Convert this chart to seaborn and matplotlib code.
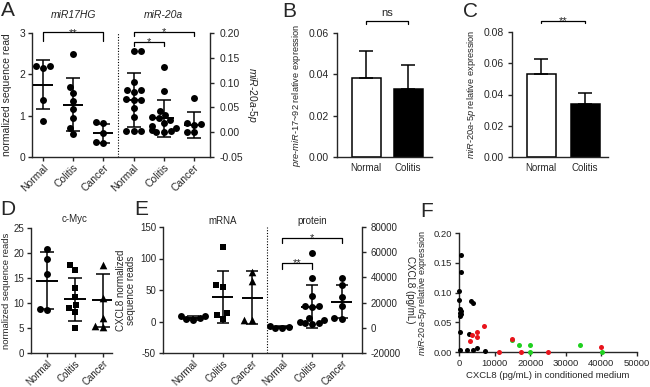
import numpy as np
import pandas as pd
import seaborn as sns
import matplotlib.pyplot as plt
import matplotlib.transforms as mtrans
from matplotlib.ticker import FormatStrFormatter

W, H = 650, 387
groups = ["Normal", "Colitis", "Cancer"]

## A: miR17HG reads (left axis) and miR-20a-5p (right axis)
a_hg_normal = [2.20, 2.15, 2.19, 1.39, 0.88]
a_hg_colitis = [2.50, 1.70, 1.55, 1.35, 1.15, 0.95, 0.70, 0.55]
a_hg_cancer = [0.85, 0.82, 0.58, 0.37, 0.35]
a_hg_mean = [1.75, 1.27, 0.57]
a_hg_sd = [0.60, 0.63, 0.23]

a_mir_normal = [0.163, 0.163, 0.102, 0.086, 0.086, 0.082, 0.067, 0.065,
                0.064, 0.048, 0.031, 0.003, 0.003, 0.003]
a_mir_colitis = [0.132, 0.084, 0.043, 0.034, 0.030, 0.028, 0.024, 0.018,
                 0.012, 0.008, 0.004, 0.002, 0.001, 0.000]
a_mir_cancer = [0.068, 0.018, 0.016, 0.014, 0.001, 0.000]
a_mir_mean = [0.065, 0.028, 0.015]
a_mir_sd = [0.054, 0.037, 0.026]

## B / C: bar charts (mean + upper error)
bc_groups = ["Normal", "Colitis"]
b_vals = [0.038, 0.033]
b_err = [0.0135, 0.0115]
c_vals = [0.053, 0.034]
c_err = [0.010, 0.007]

## D: c-Myc reads
d_normal = [20.9, 18.8, 15.9, 8.6, 8.8]
d_colitis = [17.6, 16.6, 13.1, 11.3, 9.6, 9.0, 8.2, 5.0]
d_cancer = [17.6, 11.0, 7.0, 5.5, 5.2]
d_mean = [14.5, 10.8, 10.6]
d_sd = [5.7, 4.3, 5.3]

## E: CXCL8 mRNA (left axis) and protein (right axis)
e_mrna_normal = [9, 8, 6, 4, 2]
e_mrna_colitis = [118, 58, 54, 13, 10, 4]
e_mrna_cancer = [79, 64, 2, 2]
e_mrna_mean = [5, 38.5, 37.5]
e_mrna_sd = [3, 41, 42]

e_prot_normal = [1300, 700, 100, -500]
e_prot_colitis = [59400, 39800, 25000, 17500, 17000, 16500, 8000, 6000,
                  5000, 4000, 3500, 3000]
e_prot_cancer = [39800, 33700, 24400, 17300, 8000, 7000]
e_prot_mean = [600, 16800, 20800]
e_prot_sd = [500, 16900, 12900]

## F: scatter, CXCL8 vs miR-20a-5p
f_black_x = [470, 660, 0, 0, 400, 500, 200, 560, 300, 300, 3380, 4030, 2810,
             200, 2160, 4020, 4970, 7300]
f_black_y = [0.163, 0.135, 0.103, 0.087, 0.072, 0.069, 0.066, 0.064, 0.060,
             0.034, 0.086, 0.083, 0.031, 0.003, 0.003, 0.004, 0.006, 0.0017]
f_green_x = [15000, 16940, 19940, 19940, 33870, 40150]
f_green_y = [0.0195, 0.0125, 0.0125, 0.0, 0.012, 0.0]
f_red_x = [3100, 3560, 5000, 5000, 7120, 11240, 14800, 17420, 25090, 39960]
f_red_y = [0.0186, 0.0282, 0.0338, 0.0253, 0.044, 0.0, 0.0215, 0.0, 0.0, 0.0085]

sns.set_style("ticks")
plt.rcParams["font.family"] = ["Liberation Sans", "DejaVu Sans"]
plt.rcParams.update({
    "axes.unicode_minus": False,
    "mathtext.fontset": "custom",
    "mathtext.it": "Liberation Sans:italic",
    "mathtext.rm": "Liberation Sans",
    "axes.linewidth": 1.0,
    "xtick.major.width": 1.0,
    "ytick.major.width": 1.0,
    "xtick.major.size": 3,
    "ytick.major.size": 3,
    "xtick.major.pad": 2,
    "ytick.major.pad": 2,
    "xtick.labelsize": 7,
    "ytick.labelsize": 7.5,
    "axes.labelsize": 7,
})

fig = plt.figure(figsize=(W / 100, H / 100), dpi=100)


def panel(x0, y0, x1, y1):
    return fig.add_axes([x0 / W, 1 - y1 / H, (x1 - x0) / W, (y1 - y0) / H])


def swarm(ax, values, slot, order, marker="o", size=5):
    df = pd.DataFrame({"slot": [slot] * len(values), "value": values})
    sns.swarmplot(data=df, x="slot", y="value", order=order, ax=ax, color="black",
                  marker=marker, size=size, linewidth=0, zorder=3)
    ax.set_xlabel("")
    ax.set_ylabel("")


def mean_sd(ax, pos, mean, sd, half, cap):
    pos = np.asarray(pos, float)
    ax.errorbar(pos, mean, yerr=sd, fmt="none", ecolor="black", elinewidth=1.1,
                capsize=cap, capthick=1.1, zorder=4)
    ax.hlines(mean, pos - half, pos + half, color="black", lw=1.4, zorder=4)


def bracket(ax, x0, x1, y, drop, label, off):
    ax.plot([x0, x0, x1, x1], [y - drop, y, y, y - drop], color="black", lw=0.9,
            clip_on=False)
    ax.annotate(label, xy=((x0 + x1) / 2, y), xytext=(0, off), textcoords="offset points",
                ha="center", va="baseline", fontsize=8, annotation_clip=False)


def cat_axis(ax, n, xlim, labels, size=7):
    ax.set_xlim(*xlim)
    ax.set_xticks(range(n))
    ax.set_xticklabels(labels, rotation=45, ha="right", rotation_mode="anchor",
                       fontsize=size)
    ax.tick_params(axis="x", pad=1)


def letter(x, y, s):
    fig.text(x / W, 1 - y / H, s, fontsize=15, ha="left", va="top")


order6 = ["n1", "c1", "k1", "n2", "c2", "k2"]

## ---------- A ----------
axA = panel(32, 33, 210, 157)
axA2 = axA.twinx()
for vals, slot in zip([a_hg_normal, a_hg_colitis, a_hg_cancer], order6[:3]):
    swarm(axA, vals, slot, order6)
for vals, slot in zip([a_mir_normal, a_mir_colitis, a_mir_cancer], order6[3:]):
    swarm(axA2, vals, slot, order6)
mean_sd(axA, [0, 1, 2], a_hg_mean, a_hg_sd, 0.33, 5)
mean_sd(axA2, [3, 4, 5], a_mir_mean, a_mir_sd, 0.33, 5)
axA.axvline(2.5, color="black", ls=(0, (1, 1.5)), lw=0.8)
axA.set_ylim(0, 3)
axA.set_yticks([0, 1, 2, 3])
axA2.set_ylim(-0.05, 0.20)
axA2.set_yticks([-0.05, 0, 0.05, 0.10, 0.15, 0.20])
axA2.yaxis.set_major_formatter(FormatStrFormatter("%.2f"))
axA2.tick_params(axis="y", pad=4)
cat_axis(axA, 6, (-0.36, 5.53), groups * 2, 7.5)
for s in ["top", "right"]:
    axA.spines[s].set_visible(False)
for s in ["top", "left", "bottom"]:
    axA2.spines[s].set_visible(False)
axA.set_ylabel("normalized sequence read", fontsize=7.5, labelpad=5)
axA2.set_ylabel(r"$\mathit{miR}$-$\mathit{20a}$-$\mathit{5p}$", rotation=270,
                va="bottom", fontsize=7.5, labelpad=1)
tA = mtrans.blended_transform_factory(axA.transData, axA.transAxes)
axA.text(1, 1.145, "miR17HG", transform=tA, ha="center", va="center",
         fontsize=7.5, style="italic")
axA.text(4, 1.145, "miR-20a", transform=tA, ha="center", va="center",
         fontsize=7.5, style="italic")
bracket(axA, 0, 2, 3.02, 0.225, "**", -2.5)
bracket(axA2, 3, 5, 0.2025, 0.008, "*", -2.5)
bracket(axA2, 3, 4, 0.182, 0.008, "*", -2.5)

## ---------- B / C ----------
def bar_panel(ax, vals, err, ymax, xlim, width, label):
    sns.barplot(x=bc_groups, y=vals, hue=bc_groups, palette=["white", "black"],
                edgecolor="black", linewidth=1.1, width=width, legend=False, ax=ax)
    ax.errorbar([0, 1], vals, yerr=[[0, 0], err], fmt="none", ecolor="black",
                elinewidth=1.1, capsize=5, capthick=1.1, zorder=5)
    ax.set_xlim(*xlim)
    ax.set_ylim(0, ymax)
    ax.set_yticks(np.arange(0, ymax + 1e-9, 0.02))
    ax.yaxis.set_major_formatter(FormatStrFormatter("%.2f"))
    ax.tick_params(axis="x", length=0, pad=4)
    ax.tick_params(axis="y", pad=3)
    sns.despine(ax=ax)
    ax.set_ylabel(label, fontsize=6.7, labelpad=4)


axB = panel(337, 33, 432, 157)
bar_panel(axB, b_vals, b_err, 0.06, (-0.69, 1.57), 0.69,
          r"$\mathit{pre}$-$\mathit{miR}$-$\mathit{17}$~$\mathit{92}$ relative expression")
bracket(axB, 0, 1, 0.0658, 0.0013, "ns", 3.4)

axC = panel(512, 32, 608, 157)
bar_panel(axC, c_vals, c_err, 0.08, (-0.66, 1.52), 0.66,
          r"$\mathit{miR}$-$\mathit{20a}$-$\mathit{5p}$ relative expression")
bracket(axC, 0, 1, 0.0872, 0.0016, "**", -2.5)

## ---------- D ----------
axD = panel(31, 228, 112, 353)
order3 = ["n", "c", "k"]
swarm(axD, d_normal, "n", order3, "o")
swarm(axD, d_colitis, "c", order3, "s")
swarm(axD, d_cancer, "k", order3, "^", 5.5)
mean_sd(axD, [0, 1, 2], d_mean, d_sd, 0.40, 5)
axD.set_ylim(0, 25)
axD.set_yticks(range(0, 26, 5))
axD.tick_params(axis="y", labelsize=7)
cat_axis(axD, 3, (-0.57, 2.32), groups)
sns.despine(ax=axD)
axD.set_ylabel("normalized sequence reads", fontsize=6.8, labelpad=1.5)
tD = mtrans.blended_transform_factory(axD.transData, axD.transAxes)
axD.text(1, 1.07, "c-Myc", transform=tD, ha="center", va="center", fontsize=7)

## ---------- E ----------
axE = panel(163, 227, 362, 353)
axE2 = axE.twinx()
swarm(axE, e_mrna_normal, "n1", order6, "o")
swarm(axE, e_mrna_colitis, "c1", order6, "s")
swarm(axE, e_mrna_cancer, "k1", order6, "^", 5.5)
for vals, slot in zip([e_prot_normal, e_prot_colitis, e_prot_cancer], order6[3:]):
    swarm(axE2, vals, slot, order6)
mean_sd(axE, [0, 1, 2], e_mrna_mean, e_mrna_sd, 0.36, 4)
mean_sd(axE2, [3, 4, 5], e_prot_mean, e_prot_sd, 0.36, 4)
axE.axvline(2.5, color="black", ls=(0, (1, 1.5)), lw=0.8)
axE.set_ylim(-50, 150)
axE.set_yticks(range(-50, 151, 50))
axE2.set_ylim(-20000, 80000)
axE2.set_yticks(range(-20000, 80001, 20000))
axE2.tick_params(axis="y", labelsize=7, pad=3)
axE.tick_params(axis="y", labelsize=7)
cat_axis(axE, 6, (-1.01, 5.69), groups * 2)
for s in ["top", "right"]:
    axE.spines[s].set_visible(False)
for s in ["top", "left", "bottom"]:
    axE2.spines[s].set_visible(False)
axE.set_ylabel("CXCL8 normalized\nsequence reads", labelpad=3, linespacing=0.95)
axE2.set_ylabel("CXCL8 (pg/mL)", rotation=270, va="bottom", labelpad=3)
tE = mtrans.blended_transform_factory(axE.transData, axE.transAxes)
axE.text(1, 1.05, "mRNA", transform=tE, ha="center", va="center", fontsize=7)
axE.text(4, 1.05, "protein", transform=tE, ha="center", va="center", fontsize=7)
bracket(axE2, 3, 5, 71300, 4000, "*", -2.5)
bracket(axE2, 3, 4, 51400, 5000, "**", -2.5)

## ---------- F ----------
axF = panel(459, 233, 637, 352)
sns.scatterplot(x=f_black_x, y=f_black_y, color="black", s=13, linewidth=0,
                ax=axF, clip_on=False, zorder=3)
sns.scatterplot(x=f_green_x, y=f_green_y, color="#1fd01f", s=13, linewidth=0,
                ax=axF, clip_on=False, zorder=3)
sns.scatterplot(x=f_red_x, y=f_red_y, color="#e8141c", s=13, linewidth=0,
                ax=axF, clip_on=False, zorder=3)
axF.set_xlim(0, 50000)
axF.set_ylim(0, 0.20)
axF.set_xticks(range(0, 50001, 10000))
axF.set_yticks([0, 0.05, 0.10, 0.15, 0.20])
axF.yaxis.set_major_formatter(FormatStrFormatter("%.2f"))
axF.tick_params(labelsize=6.8)
sns.despine(ax=axF)
axF.set_xlabel("CXCL8 (pg/mL) in conditioned medium", fontsize=6.8, labelpad=2)
axF.set_ylabel(r"$\mathit{miR}$-$\mathit{20a}$-$\mathit{5p}$ relative expression",
               fontsize=6.5, labelpad=3)

letter(1, 1, "A")
letter(282, 2, "B")
letter(463, 2, "C")
letter(0, 200, "D")
letter(134, 200, "E")
letter(420, 202, "F")

fig.savefig("out.png", dpi=100)
